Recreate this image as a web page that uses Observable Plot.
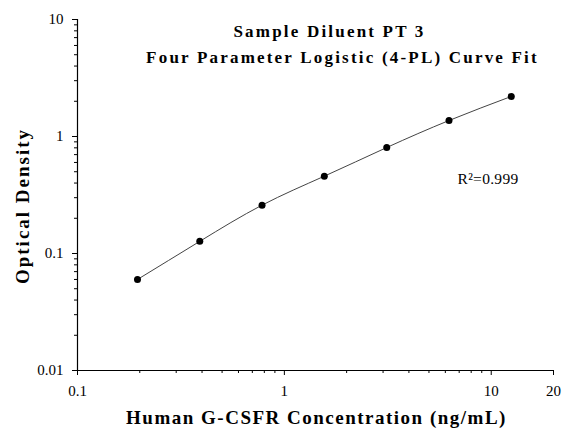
<!DOCTYPE html>
<html><head><meta charset="utf-8">
<script src="https://cdn.jsdelivr.net/npm/d3@7"></script>
<script src="https://cdn.jsdelivr.net/npm/@observablehq/plot@0.6"></script>
<style>body{margin:0;background:#fff}</style>
</head><body><div id="chart"></div>
<script>
const concentrations = [0.195, 0.39, 0.78, 1.56, 3.125, 6.25, 12.5];
const opticalDensity = [0.06, 0.127, 0.259, 0.458, 0.805, 1.37, 2.2];
const xMajorTicks = [0.1, 1, 10, 20];
const xMinorTicks = [0.2, 0.3, 0.4, 0.5, 0.6, 0.7, 0.8, 0.9, 2, 3, 4, 5, 6, 7, 8, 9];
const yMajorTicks = [0.01, 0.1, 1, 10];
const yMinorTicks = [0.02, 0.03, 0.04, 0.05, 0.06, 0.07, 0.08, 0.09, 0.2, 0.3, 0.4, 0.5, 0.6, 0.7, 0.8, 0.9, 2, 3, 4, 5, 6, 7, 8, 9];
const titleLine1 = "Sample Diluent PT 3";
const titleLine2 = "Four Parameter Logistic (4-PL) Curve Fit";
const xLabel = "Human G-CSFR Concentration (ng/mL)";
const yLabel = "Optical Density";
const fitLabel = "R\u00B2=0.999";

const data = concentrations.map((x, i) => ({x, y: opticalDensity[i]}));
const serif = "'Liberation Serif', 'Times New Roman', serif";

const plot = Plot.plot({
  width: 565, height: 430,
  marginLeft: 77, marginRight: 12, marginTop: 19, marginBottom: 60,
  style: {fontFamily: serif, background: "#fff", color: "#000", overflow: "visible"},
  x: {type: "log", domain: [0.1, 20]},
  y: {type: "log", domain: [0.01, 10]},
  marks: [
    Plot.ruleX([0.1], {stroke: "#000", strokeWidth: 1.2}),
    Plot.ruleY([0.01], {stroke: "#000", strokeWidth: 1.2}),
    Plot.axisX(xMinorTicks, {tickSize: 3, tickFormat: () => "", label: null, stroke: "#000"}),
    Plot.axisX(xMajorTicks, {tickSize: 5, tickPadding: 10, tickFormat: d => String(d), fontSize: 15, label: null, stroke: "#000", fill: "#000"}),
    Plot.axisY(yMinorTicks, {tickSize: 3, tickFormat: () => "", label: null, stroke: "#000"}),
    Plot.axisY(yMajorTicks, {tickSize: 5, tickPadding: 9, tickFormat: d => String(d), fontSize: 15, label: null, stroke: "#000", fill: "#000"}),
    Plot.line(data, {x: "x", y: "y", stroke: "#444", strokeWidth: 1, curve: "natural"}),
    Plot.dot(data, {x: "x", y: "y", r: 3.5, fill: "#000", stroke: "none"}),
    Plot.text([titleLine1], {text: d => d, frameAnchor: "top", dx: 14, dy: 17, lineAnchor: "bottom", fontSize: 17, fontWeight: "bold", fill: "#000"}),
    Plot.text([titleLine2], {text: d => d, frameAnchor: "top", dx: 27, dy: 43.7, lineAnchor: "bottom", fontSize: 17, fontWeight: "bold", fill: "#000"}),
    Plot.text([xLabel], {text: d => d, frameAnchor: "bottom", dy: 53, dx: 1, lineAnchor: "bottom", fontSize: 19, fontWeight: "bold", fill: "#000"}),
    Plot.text([yLabel], {text: d => d, frameAnchor: "left", textAnchor: "middle", rotate: -90, dx: -55, dy: 11, fontSize: 19, fontWeight: "bold", fill: "#000"}),
    Plot.text([fitLabel], {text: d => d, frameAnchor: "top-left", dx: 380, dy: 164, lineAnchor: "bottom", textAnchor: "start", fontSize: 15.5, fill: "#000"})
  ]
});
const spacing = new Map([[titleLine1, "2.2px"], [titleLine2, "2.2px"], [xLabel, "1.5px"], [yLabel, "2px"], [fitLabel, "0.3px"]]);
d3.select(plot).selectAll("text").each(function() {
  const s = spacing.get(this.textContent);
  if (s) this.setAttribute("letter-spacing", s);
});
document.getElementById("chart").appendChild(plot);
</script>
</body></html>
